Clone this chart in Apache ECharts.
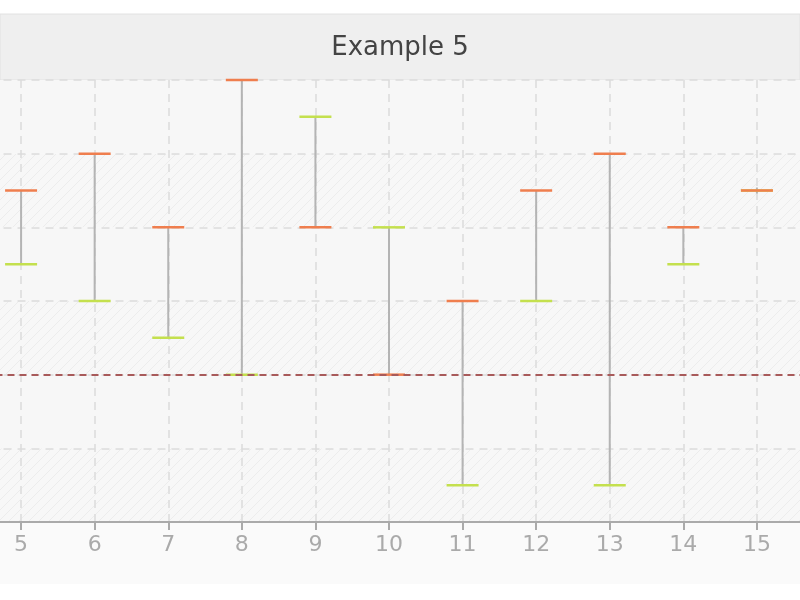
<!DOCTYPE html>
<html>
<head>
<meta charset="utf-8">
<script src="https://cdn.jsdelivr.net/npm/echarts@6/dist/echarts.min.js"></script>
<style>html,body{margin:0;padding:0;background:#fff}#main{width:800px;height:600px}</style>
</head>
<body>
<div id="main"></div>
<script>
var xValues = [5, 6, 7, 8, 9, 10, 11, 12, 13, 14, 15];
var greenValues = [3.5, 3, 2.5, 2, 5.5, 4, 0.5, 3, 0.5, 3.5, 4.5];
var orangeValues = [4.5, 5, 4, 6, 4, 2, 3, 4.5, 5, 4, 4.5];
var refLine = 2;

var data = [];
for (var i = 0; i < xValues.length; i++) {
    data.push([xValues[i], greenValues[i], orangeValues[i]]);
}

// hatch pattern for the plot background
var pat = document.createElement('canvas');
pat.width = 10; pat.height = 10;
var c = pat.getContext('2d');
c.fillStyle = '#f7f7f7';
c.fillRect(0, 0, 10, 10);
c.strokeStyle = '#ececec';
c.lineWidth = 1;
c.beginPath();
c.moveTo(0, 10); c.lineTo(10, 0);
c.moveTo(-5, 5); c.lineTo(5, -5);
c.moveTo(5, 15); c.lineTo(15, 5);
c.stroke();

var myChart = echarts.init(document.getElementById('main'));

function renderItem(params, api) {
    var x = api.value(0);
    var g = api.coord([x, api.value(1)]);
    var o = api.coord([x, api.value(2)]);
    var hw = 16;
    var top = Math.min(g[1], o[1]), bot = Math.max(g[1], o[1]);
    if (bot - top < 4) { top -= 3; bot += 3; }
    return {
        type: 'group',
        children: [
            {type: 'line', shape: {x1: g[0], y1: top, x2: g[0], y2: bot}, style: {stroke: '#b4b4b4', lineWidth: 2}},
            {type: 'line', shape: {x1: g[0] - hw, y1: g[1], x2: g[0] + hw, y2: g[1]}, style: {stroke: '#c4e04e', lineWidth: 2.5}},
            {type: 'line', shape: {x1: o[0] - hw, y1: o[1], x2: o[0] + hw, y2: o[1]}, style: {stroke: '#ef7e4e', lineWidth: 2.5}}
        ]
    };
}

var option = {
    backgroundColor: '#fff',
    animation: false,
    graphic: [
        {type: 'rect', z: -10, shape: {x: 0, y: 14, width: 800, height: 66}, style: {fill: '#efefef', stroke: '#e2e2e2'}},
        {type: 'rect', z: -10, shape: {x: 0, y: 522, width: 800, height: 62}, style: {fill: '#fafafa'}}
    ],
    title: {
        text: 'Example 5',
        left: 'center',
        top: 30,
        textStyle: {color: '#444', fontSize: 26, fontWeight: 'normal', fontFamily: 'DejaVu Sans'}
    },
    grid: {left: -52.5, right: -30.5, top: 80, bottom: 78, outerBoundsMode: 'none', containLabel: false},
    xAxis: {
        type: 'value', min: 4, max: 16, interval: 1,
        axisLine: {lineStyle: {color: '#aaa', width: 2}},
        axisTick: {show: true, length: 8, lineStyle: {color: '#aaa', width: 2}},
        axisLabel: {color: '#aaa', fontSize: 22, margin: 12, fontFamily: 'DejaVu Sans'},
        splitLine: {show: true, lineStyle: {color: '#dcdcdc', type: [8, 6], width: 1.5}}
    },
    yAxis: {
        type: 'value', min: 0, max: 6, interval: 1,
        axisLine: {show: false},
        axisTick: {show: false},
        axisLabel: {show: false},
        splitLine: {lineStyle: {color: '#dcdcdc', type: [8, 6], width: 1.5}},
        splitArea: {show: true, areaStyle: {color: [{image: pat, repeat: 'repeat'}, '#f7f7f7']}}
    },
    series: [{
        type: 'custom',
        renderItem: renderItem,
        data: data,
        encode: {x: 0, y: [1, 2]},
        markLine: {
            silent: true,
            symbol: 'none',
            label: {show: false},
            lineStyle: {color: '#a85a5a', type: [7, 5], width: 2},
            data: [{yAxis: refLine}]
        }
    }]
};

myChart.setOption(option);
</script>
</body>
</html>
